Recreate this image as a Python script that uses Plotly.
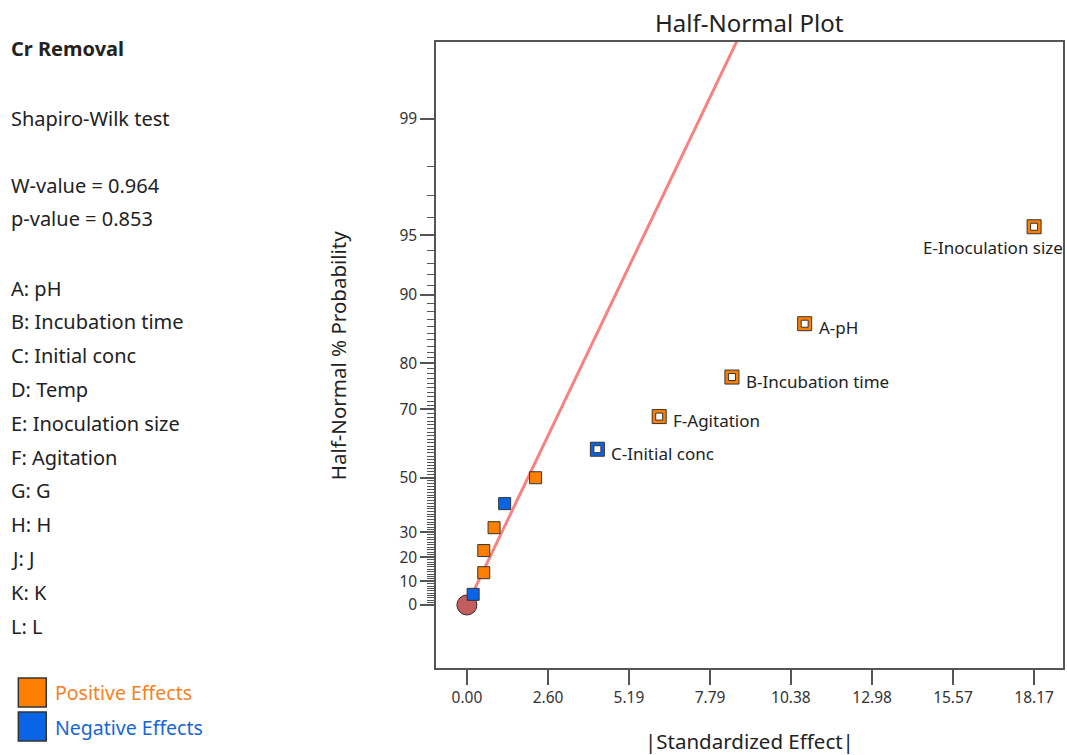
from statistics import NormalDist
import plotly.graph_objects as go

# ---------------- data ----------------
# unlabeled effects (|standardized effect|, half-normal % probability, sign)
small_effect = [0.20, 0.54, 0.54, 0.87, 1.21, 2.20]
small_prob = [4.5, 13.6, 22.7, 31.8, 40.9, 50.0]
small_sign = ["neg", "pos", "pos", "pos", "neg", "pos"]

# labeled effects
lab_names = ["C-Initial conc", "F-Agitation", "B-Incubation time", "A-pH", "E-Inoculation size"]
lab_effect = [4.18, 6.16, 8.49, 10.82, 18.17]
lab_prob = [59.1, 68.2, 77.3, 86.4, 95.5]
lab_sign = ["neg", "pos", "pos", "pos", "pos"]

# origin marker
origin_effect = [0.0]
origin_prob = [0.0]

# fitted reference line (end points)
line_effect = [0.26, 8.65]
line_prob = [7.1, 99.72]

x_tick_labels = ["0.00", "2.60", "5.19", "7.79", "10.38", "12.98", "15.57", "18.17"]
y_major = [0, 10, 20, 30, 50, 70, 80, 90, 95, 99]
y_minor = [p for p in range(0, 100) if p not in y_major]

factor_list = ["A: pH", "B: Incubation time", "C: Initial conc", "D: Temp",
               "E: Inoculation size", "F: Agitation", "G: G", "H: H", "J: J",
               "K: K", "L: L"]

# ---------------- helpers ----------------
nd = NormalDist()


def hz(p):
    return nd.inv_cdf(0.5 + p / 200.0)


ORANGE = "#FF7F00"
BLUE = "#0A64E6"
EDGE = "#333333"
FONT = "Noto Sans"
col = {"pos": ORANGE, "neg": BLUE}

fig = go.Figure()

fig.add_trace(go.Scatter(
    x=line_effect, y=[hz(p) for p in line_prob], mode="lines",
    line=dict(color="#F88282", width=3), hoverinfo="skip", showlegend=False))

fig.add_trace(go.Scatter(
    x=origin_effect, y=[hz(p) for p in origin_prob], mode="markers",
    marker=dict(symbol="circle", size=20, color="#C25E5E",
                line=dict(color="#3a2a2a", width=1)),
    showlegend=False))

fig.add_trace(go.Scatter(
    x=small_effect, y=[hz(p) for p in small_prob], mode="markers",
    marker=dict(symbol="square", size=12, color=[col[s] for s in small_sign],
                line=dict(color=EDGE, width=1)),
    showlegend=False))

fig.add_trace(go.Scatter(
    x=lab_effect, y=[hz(p) for p in lab_prob], mode="markers",
    marker=dict(symbol="square", size=14, color=[col[s] for s in lab_sign],
                line=dict(color=EDGE, width=1)),
    showlegend=False))
fig.add_trace(go.Scatter(
    x=lab_effect, y=[hz(p) for p in lab_prob], mode="markers",
    marker=dict(symbol="square", size=7, color="white",
                line=dict(color=EDGE, width=1)),
    showlegend=False))

annotations = []
for name, ex, pr in zip(lab_names, lab_effect, lab_prob):
    if name.startswith("E-"):
        annotations.append(dict(x=ex, y=hz(pr), xref="x", yref="y", text=name,
                                showarrow=False, xanchor="left", yanchor="middle",
                                xshift=-113, yshift=-21,
                                font=dict(family=FONT, size=17, color="#222")))
    else:
        annotations.append(dict(x=ex, y=hz(pr), xref="x", yref="y", text=name,
                                showarrow=False, xanchor="left", yanchor="middle",
                                xshift=12, yshift=-4,
                                font=dict(family=FONT, size=17, color="#222")))

# plot area geometry in pixels
L, T, R, B = 436, 42, 1065, 668
W, H = 1067, 755


def px(xp):
    return (xp - L) / (R - L)


def py(yp):
    return (B - yp) / (B - T)


left_lines = [("<b>Cr Removal</b>", 49), ("Shapiro-Wilk test", 118),
              ("W-value = 0.964", 185), ("p-value = 0.853", 219)]
for i, f in enumerate(factor_list):
    left_lines.append((f, 288 + i * 33.8))
for txt, yy in left_lines:
    annotations.append(dict(x=px(8), y=py(yy), xref="paper", yref="paper", text=txt,
                            showarrow=False, xanchor="left", yanchor="middle",
                            font=dict(family=FONT, size=20, color="#222")))

annotations.append(dict(x=px(52), y=py(692), xref="paper", yref="paper",
                        text="Positive Effects", showarrow=False, xanchor="left",
                        yanchor="middle", font=dict(family=FONT, size=19.5, color="#F5821F")))
annotations.append(dict(x=px(52), y=py(727), xref="paper", yref="paper",
                        text="Negative Effects", showarrow=False, xanchor="left",
                        yanchor="middle", font=dict(family=FONT, size=19.5, color="#1566D6")))

annotations.append(dict(x=0.5, y=py(23), xref="paper", yref="paper",
                        text="Half-Normal Plot", showarrow=False, xanchor="center",
                        yanchor="middle", font=dict(family=FONT, size=24, color="#222")))
annotations.append(dict(x=0.5, y=py(741), xref="paper", yref="paper",
                        text="|Standardized Effect|", showarrow=False, xanchor="center",
                        yanchor="middle", font=dict(family=FONT, size=20.5, color="#222")))
annotations.append(dict(x=px(338), y=0.5, xref="paper", yref="paper",
                        text="Half-Normal % Probability", showarrow=False, textangle=-90,
                        xanchor="center", yanchor="middle",
                        font=dict(family=FONT, size=20.5, color="#222")))

shapes = [
    dict(type="rect", xref="paper", yref="paper", x0=px(17), x1=px(45),
         y0=py(707), y1=py(678), fillcolor=ORANGE, line=dict(color=EDGE, width=1.5)),
    dict(type="rect", xref="paper", yref="paper", x0=px(17), x1=px(45),
         y0=py(741), y1=py(712), fillcolor=BLUE, line=dict(color=EDGE, width=1.5)),
]

x_range = [(L - 467) / 31.316, (R - 467) / 31.316]
y_range = [(605 - B) / 188.68, (605 - T) / 188.68]

fig.update_layout(
    width=W, height=H,
    margin=dict(l=L, r=W - R, t=T, b=H - B),
    paper_bgcolor="white", plot_bgcolor="white",
    showlegend=False,
    annotations=annotations, shapes=shapes,
    xaxis=dict(range=x_range, tickmode="array",
               tickvals=[float(t) for t in x_tick_labels], ticktext=x_tick_labels,
               ticks="outside", ticklen=15, tickwidth=1.5, tickcolor="#555",
               showgrid=False, zeroline=False, showline=True, mirror=True,
               linecolor="#555", linewidth=1.5,
               tickfont=dict(family=FONT, size=15.5, color="#333")),
    yaxis=dict(range=y_range, tickmode="array",
               tickvals=[hz(p) for p in y_major], ticktext=[str(p) for p in y_major],
               ticks="outside", ticklen=14, tickwidth=1.5, tickcolor="#555",
               minor=dict(tickmode="array", tickvals=[hz(p) for p in y_minor],
                          ticks="outside", ticklen=7, tickwidth=1, tickcolor="#555",
                          showgrid=False),
               showgrid=False, zeroline=False, showline=True, mirror=True,
               linecolor="#555", linewidth=1.5,
               tickfont=dict(family=FONT, size=15.5, color="#333")),
)

fig.write_html("out.html", config={"displayModeBar": False},
               post_script="document.body.style.margin='0px';document.body.style.overflow='hidden';")
